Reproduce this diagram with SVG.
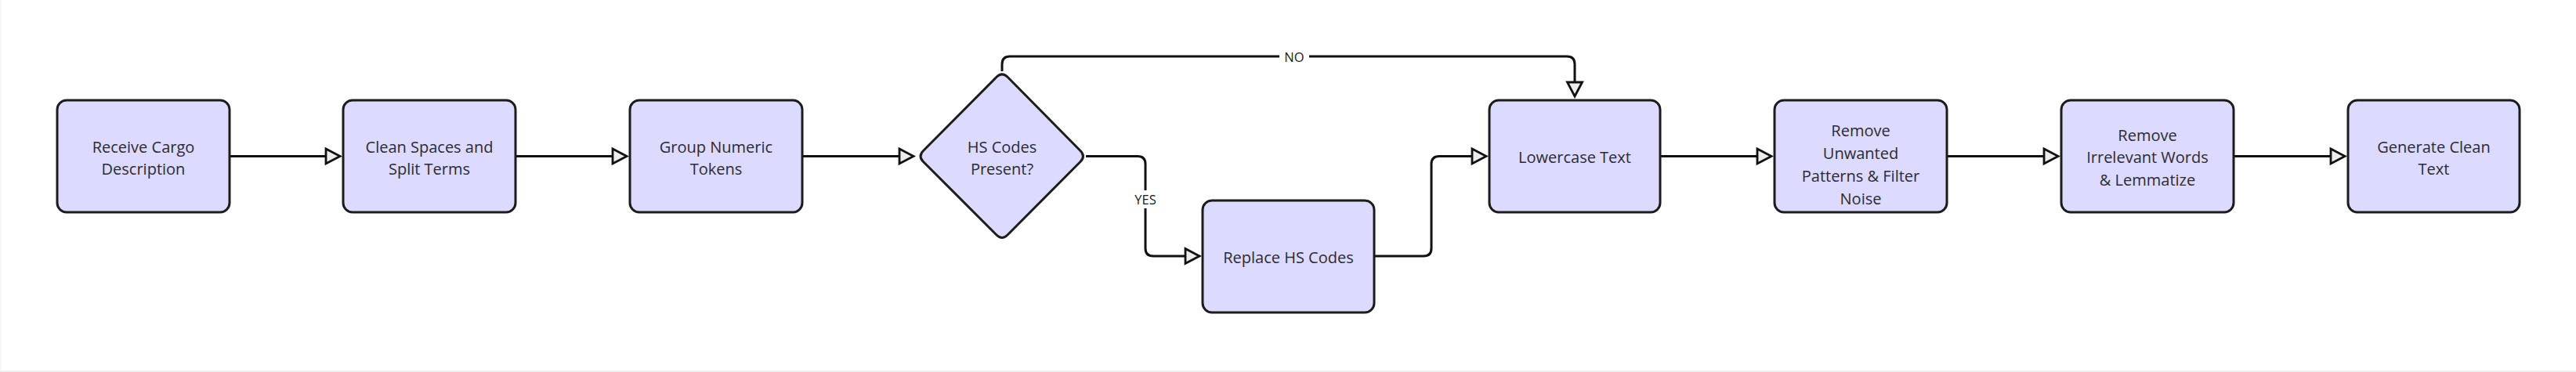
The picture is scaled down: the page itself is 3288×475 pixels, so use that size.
<svg xmlns="http://www.w3.org/2000/svg" width="3288" height="475" viewBox="0 0 3288 475">
<style>
.node rect, .node path { fill: #dddaff; stroke: #1c1c1c; stroke-width: 3; }
.lbl { font-family: "Open Sans", "Noto Sans", sans-serif; font-size: 20px; fill: #2b2b33; text-anchor: middle; dominant-baseline: central; }
.elbl { font-family: "Open Sans", "Noto Sans", sans-serif; font-size: 16.5px; fill: #1a1a1a; text-anchor: middle; dominant-baseline: central; }
.edge { fill: none; stroke: #111111; stroke-width: 3; marker-end: url(#arrow); }
</style>
<defs>
<marker id="arrow" markerUnits="userSpaceOnUse" viewBox="-3 -13 26 26" markerWidth="26" markerHeight="26" refX="18" refY="0" orient="auto">
<path d="M0,-9.5 L18,0 L0,9.5 Z" fill="#ececec" stroke="#111111" stroke-width="2.8" stroke-linejoin="miter"/>
</marker>
</defs>
<rect x="0" y="0" width="3288" height="475" fill="#ffffff"/>
<rect x="0" y="473" width="3288" height="2" fill="#f0f0f0"/>
<rect x="0" y="0" width="1.5" height="473" fill="#f4f4f4"/>

<g id="connectors">
<path class="edge" d="M293,199.5 H434"/>
<path class="edge" d="M658,199.5 H800"/>
<path class="edge" d="M1024,199.5 H1166"/>
<path class="edge" d="M1386,199.5 H1452 Q1462,199.5 1462,209.5 V317 Q1462,327 1472,327 H1531"/>
<path class="edge" d="M1754,327 H1817 Q1827,327 1827,317 V209.5 Q1827,199.5 1837,199.5 H1897"/>
<path class="edge" d="M1279,91 V82 Q1279,72 1289,72 H2000 Q2010,72 2010,82 V123"/>
<path class="edge" d="M2119,199.5 H2261"/>
<path class="edge" d="M2485,199.5 H2627"/>
<path class="edge" d="M2851,199.5 H2993"/>
<rect x="1633" y="61" width="38" height="22" fill="#ffffff"/>
<text class="elbl" x="1652" y="72">NO</text>
<rect x="1444" y="243" width="36" height="23" fill="#ffffff"/>
<text class="elbl" x="1462" y="254.5">YES</text>
</g>

<g id="receive" class="node">
<rect x="73" y="128" width="220" height="143" rx="12"/>
<text class="lbl" x="183" y="187">Receive Cargo</text>
<text class="lbl" x="183" y="215">Description</text>
</g>
<g id="clean" class="node">
<rect x="438" y="128" width="220" height="143" rx="12"/>
<text class="lbl" x="548" y="187">Clean Spaces and</text>
<text class="lbl" x="548" y="215">Split Terms</text>
</g>
<g id="group" class="node">
<rect x="804" y="128" width="220" height="143" rx="12"/>
<text class="lbl" x="914" y="187">Group Numeric</text>
<text class="lbl" x="914" y="215">Tokens</text>
</g>
<g id="hscheck" class="node">
<path d="M1272,98.3 Q1279,91.3 1286,98.3 L1379,192.5 Q1386,199.5 1379,206.5 L1286,300 Q1279,307 1272,300 L1178.5,206.5 Q1171.5,199.5 1178.5,192.5 Z"/>
<text class="lbl" x="1279" y="187">HS Codes</text>
<text class="lbl" x="1279" y="215">Present?</text>
</g>
<g id="replace" class="node">
<rect x="1535" y="256" width="219" height="143" rx="12"/>
<text class="lbl" x="1644.5" y="328">Replace HS Codes</text>
</g>
<g id="lowercase" class="node">
<rect x="1901" y="128" width="218" height="143" rx="12"/>
<text class="lbl" x="2010" y="200">Lowercase Text</text>
</g>
<g id="unwanted" class="node">
<rect x="2265" y="128" width="220" height="143" rx="12"/>
<text class="lbl" x="2375" y="166">Remove</text>
<text class="lbl" x="2375" y="195">Unwanted</text>
<text class="lbl" x="2375" y="224">Patterns &amp; Filter</text>
<text class="lbl" x="2375" y="253">Noise</text>
</g>
<g id="irrelevant" class="node">
<rect x="2631" y="128" width="220" height="143" rx="12"/>
<text class="lbl" x="2741" y="172">Remove</text>
<text class="lbl" x="2741" y="200">Irrelevant Words</text>
<text class="lbl" x="2741" y="229">&amp; Lemmatize</text>
</g>
<g id="generate" class="node">
<rect x="2997" y="128" width="219" height="143" rx="12"/>
<text class="lbl" x="3106.5" y="187">Generate Clean</text>
<text class="lbl" x="3106.5" y="215">Text</text>
</g>
</svg>
